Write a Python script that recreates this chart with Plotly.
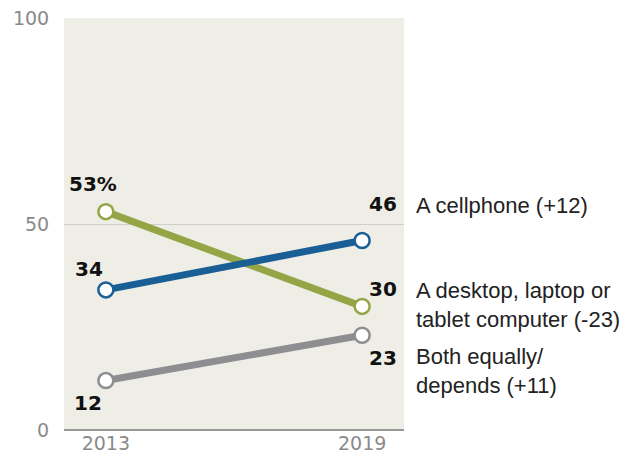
import plotly.graph_objects as go

years = [2013, 2019]
series_names = ["A cellphone (+12)", "A desktop, laptop or<br>tablet computer (-23)", "Both equally/<br>depends (+11)"]
cellphone = [34, 46]
computer = [53, 30]
both = [12, 23]
colors = ["#1A5E96", "#93A545", "#8E8E92"]
y_ticks = [0, 50, 100]

fig = go.Figure()

for vals, col in [(both, colors[2]), (computer, colors[1]), (cellphone, colors[0])]:
    fig.add_trace(go.Scatter(
        x=years, y=vals, mode="lines+markers",
        line=dict(color=col, width=7),
        marker=dict(size=15, color="white", line=dict(color=col, width=2.5)),
        hoverinfo="skip", showlegend=False, cliponaxis=False,
    ))

FONT = "Liberation Sans, Arial"
TICKFONT = dict(family="DejaVu Sans", size=19, color="#8A8A8A")
numfont = dict(family="DejaVu Sans", size=20, color="#111111")
# left value labels
left_labels = [(computer[0], "<b>53%</b>", 28, -13), (cellphone[0], "<b>34</b>", 21, -17), (both[0], "<b>12</b>", -22, -18)]
for v, t, ys, xs in left_labels:
    fig.add_annotation(x=years[0], y=v, text=t, showarrow=False, xshift=xs, yshift=ys,
                       font=numfont, xanchor="center", yanchor="middle")
# right value labels
right_labels = [(cellphone[1], "<b>46</b>", 36), (computer[1], "<b>30</b>", 17), (both[1], "<b>23</b>", -23)]
for v, t, ys in right_labels:
    fig.add_annotation(x=years[1], y=v, text=t, showarrow=False, xshift=21, yshift=ys,
                       font=numfont, xanchor="center", yanchor="middle")
# series names
name_pos = [(cellphone[1], series_names[0], 35), (computer[1], series_names[1], 1), (both[1], series_names[2], -36)]
for v, t, ys in name_pos:
    fig.add_annotation(x=years[1], y=v, text=t, showarrow=False, xshift=52, yshift=ys,
                       font=dict(family=FONT, size=22, color="#222222"),
                       xanchor="left", yanchor="middle", align="left")

fig.update_layout(
    width=638, height=458,
    margin=dict(l=64, r=234, t=18, b=28),
    paper_bgcolor="white", plot_bgcolor="#EFEEE6",
    xaxis=dict(range=[2012.02, 2019.98], tickvals=years, ticktext=[str(y) for y in years],
               showgrid=False, zeroline=False, showline=False, automargin=False,
               tickfont=TICKFONT, ticks="", fixedrange=True),
    yaxis=dict(range=[0, 100], tickvals=y_ticks, showgrid=True, gridcolor="#CFCFC8", gridwidth=1,
               zeroline=True, zerolinecolor="#999999", zerolinewidth=1.5, showline=False,
               automargin=False, tickfont=TICKFONT,
               ticks="outside", ticklen=10, tickcolor="rgba(0,0,0,0)", fixedrange=True),
)

fig.write_html("out.html")
